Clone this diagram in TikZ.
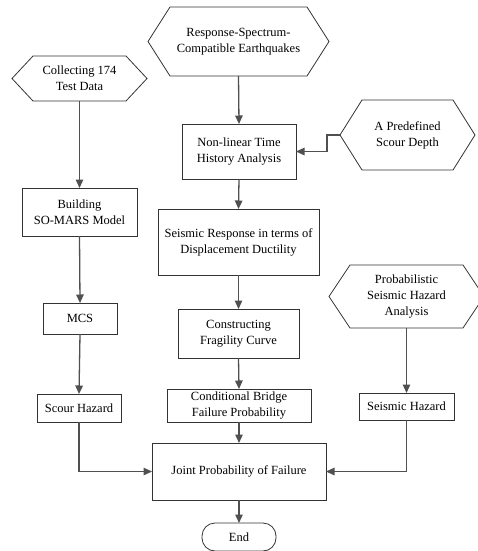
\documentclass[tikz,border=0pt]{standalone}
\usepackage{fontspec}
\setmainfont{Liberation Serif}
\usetikzlibrary{arrows.meta}
\definecolor{edgecol}{HTML}{333333}
\definecolor{conncol}{HTML}{505050}
\tikzset{
  txt/.style={inner sep=0pt, outer sep=0pt, align=center,
    font=\fontsize{12.5}{16}\selectfont, text=black},
  box/.style={txt, draw=edgecol, line width=0.8pt},
  hexline/.style={draw=edgecol, line width=0.8pt, line join=miter},
  link/.style={draw=conncol, line width=1.3pt, -{Triangle[length=8.5pt,width=7.5pt]}},
}
\newcommand\HexNode[7]{%
  \node[txt, minimum width=2*#4, minimum height=2*#5] (#1) at (#2,-#3) {#7};
  \draw[hexline] (#1.west) -- ([xshift=#6]#1.north west) -- ([xshift=-#6]#1.north east)
    -- (#1.east) -- ([xshift=-#6]#1.south east) -- ([xshift=#6]#1.south west) -- cycle;
}
\newcommand\BoxNode[6]{%
  \node[box, minimum width=#4, minimum height=#5] (#1) at (#2,-#3) {#6};
}
\begin{document}
\begin{tikzpicture}[x=1pt,y=1pt]
\clip (0,0) rectangle (478,-551);
\fill[white] (0,0) rectangle (478,-551);
\HexNode{coll}{79.5}{78.5}{67.5}{22.5}{21}{Collecting 174\\Test Data}
\HexNode{resp}{238.5}{41.5}{90.5}{34.5}{22}{Response-Spectrum-\\Compatible Earthquakes}
\HexNode{depth}{407.5}{135}{67.5}{35}{22}{A Predefined\\Scour Depth}
\HexNode{psha}{406.5}{296.5}{77.5}{31.5}{21}{Probabilistic\\Seismic Hazard\\Analysis}
\BoxNode{nl}{239}{151.5}{114}{55}{Non-linear Time\\History Analysis}
\BoxNode{build}{79.5}{212}{115}{48}{Building\\SO-MARS Model}
\BoxNode{sresp}{238.5}{242}{161}{66}{Seismic Response in terms of\\Displacement Ductility}
\BoxNode{mcs}{80}{318.5}{74}{31}{MCS}
\BoxNode{frag}{238.5}{333.5}{121}{49}{Constructing\\Fragility Curve}
\BoxNode{shaz}{79}{408}{84}{28}{Scour Hazard}
\BoxNode{cond}{239}{405.5}{144}{33}{Conditional Bridge\\Failure Probability}
\BoxNode{eqhaz}{406.5}{406.5}{95}{27}{Seismic Hazard}
\BoxNode{joint}{239}{471.5}{174}{57}{Joint Probability of Failure}
\node[box, minimum width=74, minimum height=28, rounded corners=13pt] (end) at (239,-537) {End};
\draw[link] (coll.south) -- (build.north);
\draw[link] (build.south) -- (mcs.north);
\draw[link] (mcs.south) -- (shaz.north);
\draw[link] (resp.south) -- (nl.north);
\draw[link] (depth.west) -- ++(-13,0) |- (nl.east);
\draw[link] (nl.south) -- (sresp.north);
\draw[link] (sresp.south) -- (frag.north);
\draw[link] (frag.south) -- (cond.north);
\draw[link] (cond.south) -- (joint.north);
\draw[link] (joint.south) -- (end.north);
\draw[link] (psha.south) -- (eqhaz.north);
\draw[link] (shaz.south) |- (joint.west);
\draw[link] (eqhaz.south) |- (joint.east);
\end{tikzpicture}
\end{document}
